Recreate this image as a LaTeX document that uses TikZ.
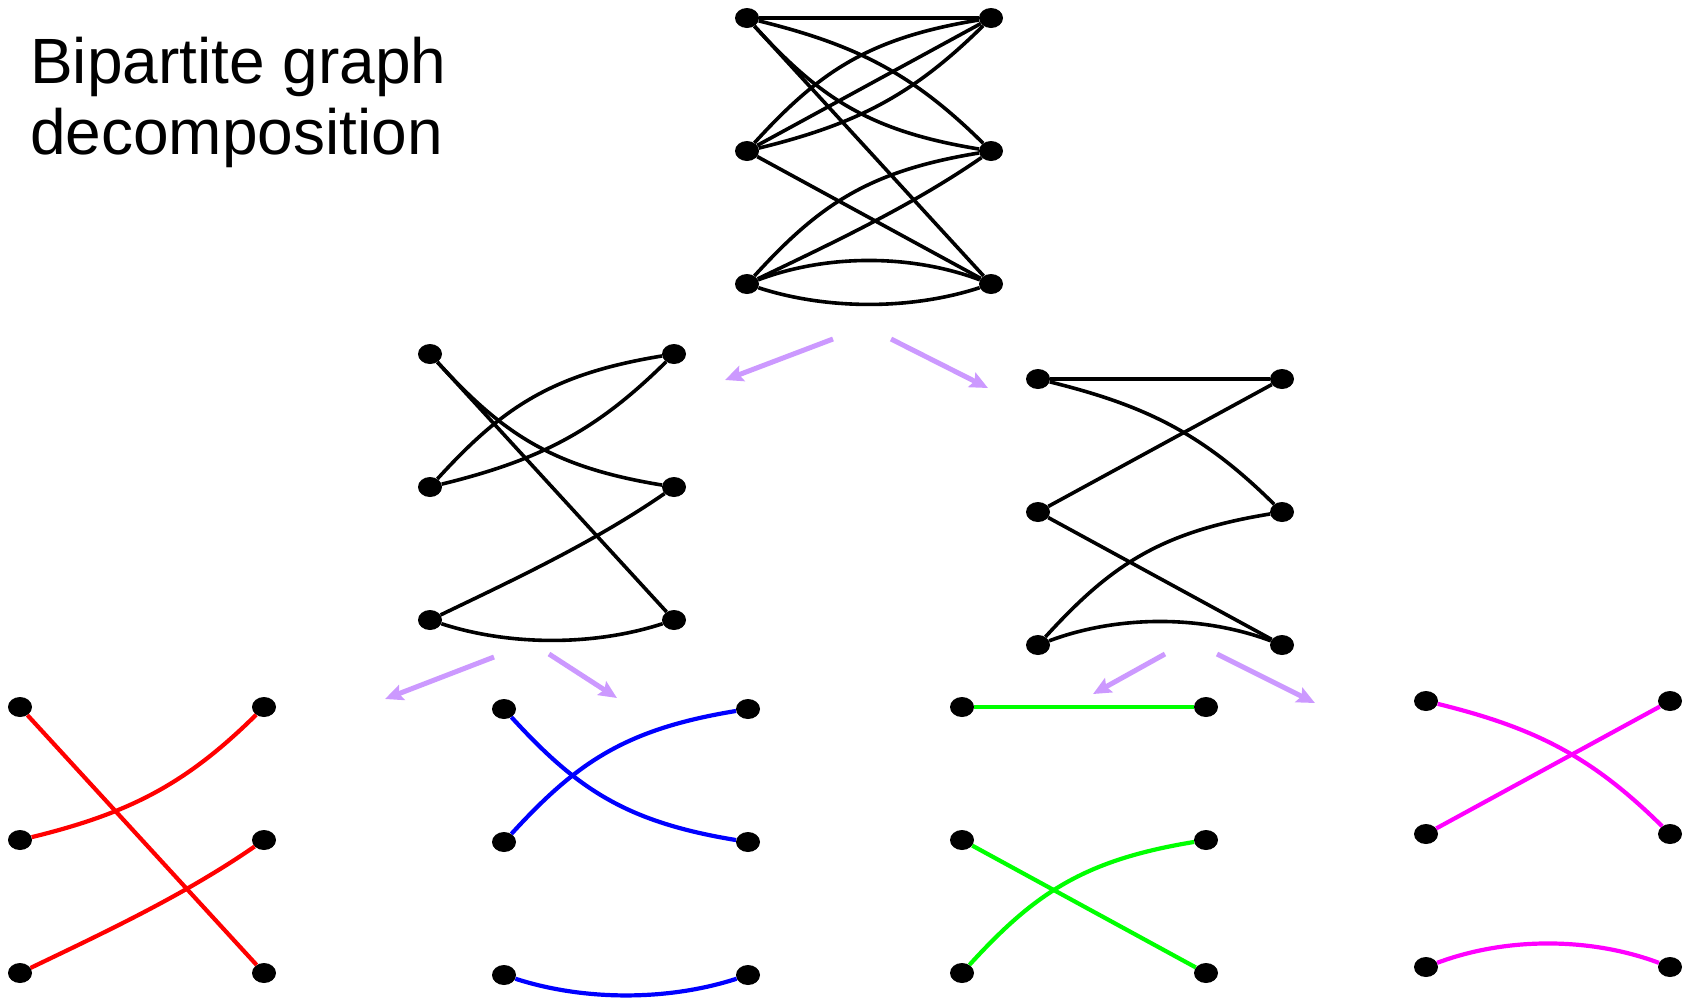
\documentclass[tikz,border=0pt]{standalone}
\usepackage{fontspec}
\setmainfont{Liberation Sans}
\usetikzlibrary{shapes.geometric,arrows.meta}

\definecolor{lilac}{RGB}{204,153,255}
\definecolor{mag}{RGB}{255,0,255}
\definecolor{lime}{RGB}{0,255,0}
\tikzset{
  vtx/.style={ellipse,fill=black,minimum width=24pt,minimum height=20pt,inner sep=0pt},
  link/.style={line width=3.6pt},
  mline/.style={line width=4.2pt},
  split/.style={lilac,line width=5pt,-{Stealth[length=18pt,width=16pt,inset=3pt]}}
}

% the four matchings, #1 graph, #2 colour
\newcommand\redpart[2]{%
  \draw[link,#2] (#1-l1) -- (#1-r3);
  \draw[link,#2] (#1-l2) .. controls +(110,-27) and +(-78,77) .. (#1-r1);
  \draw[link,#2] (#1-l3) .. controls +(81,-39) and +(-81,56) .. (#1-r2);
}
\newcommand\bluepart[2]{%
  \draw[link,#2] (#1-l1) .. controls +(73,80) and +(-122,-20) .. (#1-r2);
  \draw[link,#2] (#1-l2) .. controls +(73,-80) and +(-122,20) .. (#1-r1);
  \draw[link,#2] (#1-l3) .. controls +(80,26) and +(-80,26) .. (#1-r3);
}
\newcommand\greenpart[2]{%
  \draw[link,#2] (#1-l1) -- (#1-r1);
  \draw[link,#2] (#1-l2) -- (#1-r3);
  \draw[link,#2] (#1-l3) .. controls +(73,-80) and +(-122,20) .. (#1-r2);
}
\newcommand\magentapart[2]{%
  \draw[link,#2] (#1-l1) .. controls +(110,27) and +(-78,-77) .. (#1-r2);
  \draw[link,#2] (#1-l2) -- (#1-r1);
  \draw[link,#2] (#1-l3) .. controls +(80,-30) and +(-80,-30) .. (#1-r3);
}

\begin{document}
\begin{tikzpicture}[x=1pt,y=-1pt]
\useasboundingbox (0,0) rectangle (1691,997);

\node[anchor=base west,inner sep=0pt,align=left,font=\fontsize{64}{71}\selectfont] (title) at (30,154) {Bipartite graph\\decomposition};

% vertices
\foreach \g/\x/\y in {t/747/18, a/430/354, b/1038/379, r/20/707, u/504/709, g/962/707, m/1426/701}
  \foreach \i in {1,2,3} {
    \node[vtx] (\g-l\i) at (\x,\y+133*\i-133) {};
    \node[vtx] (\g-r\i) at (\x+244,\y+133*\i-133) {};
  }

% whole graph
\redpart{t}{black}
\bluepart{t}{black}
\greenpart{t}{black}
\magentapart{t}{black}
% first split
\redpart{a}{black}
\bluepart{a}{black}
\greenpart{b}{black}
\magentapart{b}{black}
% matchings
\redpart{r}{red,mline}
\bluepart{u}{blue,mline}
\greenpart{g}{lime,mline}
\magentapart{m}{mag,mline}

% arrows
\coordinate (s1) at (833,339);  \coordinate (e1) at (725,380);
\coordinate (s2) at (891,339);  \coordinate (e2) at (988,388);
\coordinate (s3) at (494,657);  \coordinate (e3) at (385,699);
\coordinate (s4) at (549,654);  \coordinate (e4) at (617,698);
\coordinate (s5) at (1165,654); \coordinate (e5) at (1093,694);
\coordinate (s6) at (1217,654); \coordinate (e6) at (1315,703);
\foreach \k in {1,...,6}
  \draw[split] (s\k) -- (e\k);
\end{tikzpicture}
\end{document}
